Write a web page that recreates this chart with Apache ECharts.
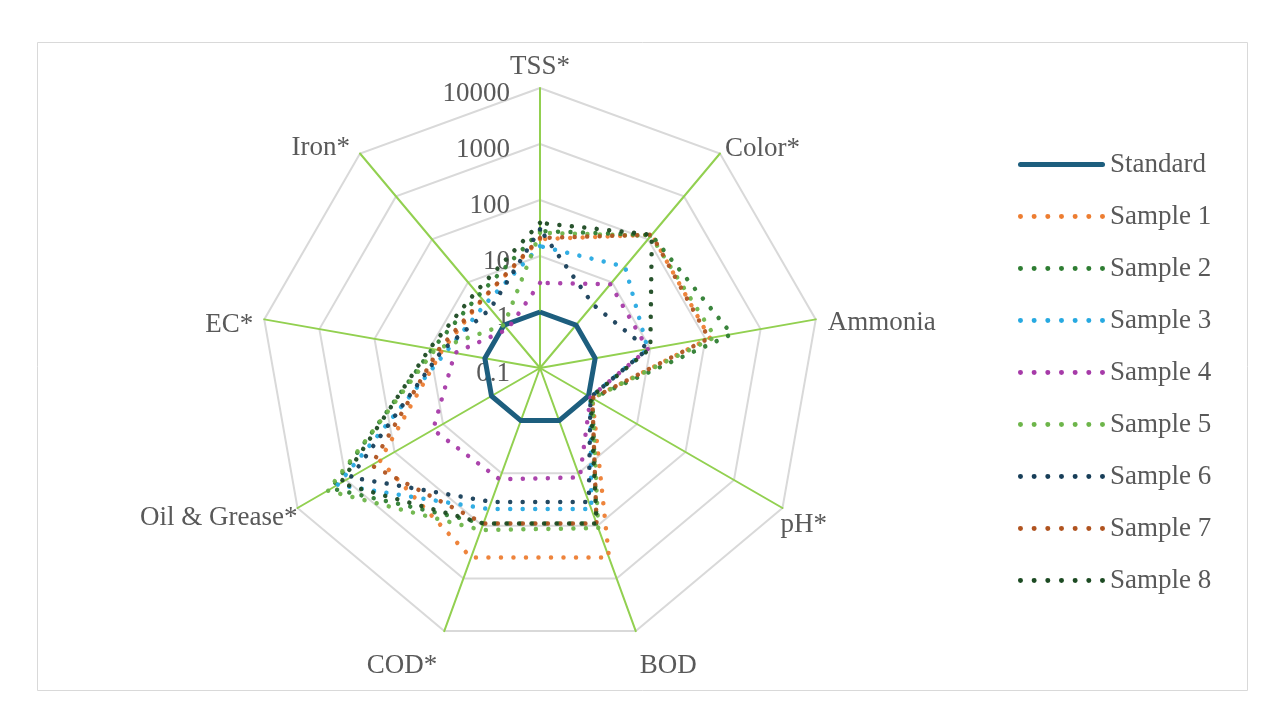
<!DOCTYPE html>
<html><head><meta charset="utf-8">
<script src="https://cdn.jsdelivr.net/npm/echarts@6/dist/echarts.min.js"></script>
<style>html,body{margin:0;padding:0;background:#fff}#c{width:1284px;height:721px}</style>
</head><body><div id="c"></div>
<script>
// Indicators listed clockwise from the top, as in the reference
const indicators = ['TSS*', 'Color*', 'Ammonia', 'pH*', 'BOD', 'COD*', 'Oil & Grease*', 'EC*', 'Iron*'];
const tickLabels = ['0.1', '1', '10', '100', '1000', '10000'];
const seriesNames = ['Standard', 'Sample 1', 'Sample 2', 'Sample 3', 'Sample 4', 'Sample 5', 'Sample 6', 'Sample 7', 'Sample 8'];
const seriesColors = ['#1D5E7E', '#ED7D31', '#2E7D32', '#27A9E1', '#A63AA8', '#6DB54A', '#173E58', '#B0531F', '#1C4A22'];

//                TSS  Color Amm  pH   BOD  COD  Oil   EC   Iron
const standard = [1,   1,    1,   1,   1,   1,   1,    1,   1];
const sample1  = [20,  128,  120, 1.2, 400, 400, 200,  6,   4];
const sample2  = [28,  125,  300, 1.2, 90,  90,  2000, 9,   5];
const sample3  = [15,  23,   9,   1.1, 48,  48,  1500, 5,   3.2];
const sample4  = [3.3, 9,    9,   1.1, 12,  13,  16,   3.5, 0.8];
const sample5  = [26,  120,  150, 1.2, 110, 120, 2400, 8,   1];
const sample6  = [30,  3,    9,   1.1, 35,  35,  800,  6,   2.4];
const sample7  = [21,  128,  115, 1.2, 90,  90,  300,  7,   4];
const sample8  = [39,  128,  10,  1.1, 90,  90,  1300, 10,  6];
const datasets = [standard, sample1, sample2, sample3, sample4, sample5, sample6, sample7, sample8];

// Name label offsets per indicator: [top, right, bottom, left] padding (layout only)
const namePads = [null, [-18, 0, 0, 5], [-10, 0, 0, 12], [3, 0, 0, -2], [21, 0, 0, 4],
                  [21, 7, 0, 0], [-4, 0, 0, 0], [-8, 11, 0, 0], [-19, 10, 0, 0]];

// ECharts places indicators counter-clockwise; reorder so they run clockwise
const order = [0, 8, 7, 6, 5, 4, 3, 2, 1];
const font = 'Liberation Serif';
const textColor = '#595959';
const fs = 27;

function dotPath() {
  let p = 'path://';
  for (let i = 0; i < 7; i++) {
    const cx = 2.5 + 13.7 * i;
    p += 'M' + (cx - 2.5) + ',2.5a2.5,2.5 0 1,0 5,0a2.5,2.5 0 1,0 -5,0';
  }
  return p;
}
const solidPath = 'path://M2.5,0h82a2.5,2.5 0 0,1 0,5h-82a2.5,2.5 0 0,1 0,-5z';

const chart = echarts.init(document.getElementById('c'), null, {renderer: 'canvas'});
const option = {
  animation: false,
  backgroundColor: '#fff',
  graphic: [{
    type: 'rect', shape: {x: 37.5, y: 42.5, width: 1210, height: 648},
    style: {fill: 'none', stroke: '#D9D9D9', lineWidth: 1}, silent: true
  }],
  legend: {
    orient: 'vertical', left: 1013, top: 146,
    itemWidth: 87, itemHeight: 5, itemGap: 25,
    textStyle: {fontFamily: font, fontSize: fs, color: textColor},
    data: seriesNames.map((n, s) => ({
      name: n, icon: s === 0 ? solidPath : dotPath(),
      itemStyle: {color: seriesColors[s], borderWidth: 0}
    }))
  },
  radar: {
    center: [540, 368], radius: 280, startAngle: 90, shape: 'polygon', splitNumber: 5,
    indicator: order.map((i, k) => {
      const ind = {name: indicators[i], min: -1, max: 4};
      if (namePads[i]) {
        ind.nameGap = 0;
        ind.nameTextStyle = {verticalAlign: 'top', padding: namePads[i]};
      } else {
        ind.nameGap = 8;
      }
      if (k === 0) {
        ind.axisLabel = {
          show: true, fontFamily: font, fontSize: fs, color: textColor, margin: 30,
          verticalAlign: 'top', padding: [-8, 0, 0, 0],
          formatter: v => tickLabels[Math.round(v) + 1]
        };
      }
      return ind;
    }),
    axisName: {color: textColor, fontSize: fs, fontFamily: font},
    nameGap: 8,
    axisLine: {lineStyle: {color: '#92D050', width: 2}},
    splitLine: {lineStyle: {color: '#D9D9D9', width: 2}},
    splitArea: {show: false},
    axisTick: {show: false},
    axisLabel: {show: false}
  },
  series: seriesNames.map((n, s) => ({
    type: 'radar', name: n, symbol: 'none', silent: true,
    lineStyle: s === 0
      ? {color: seriesColors[s], width: 5, join: 'round'}
      : {color: seriesColors[s], width: 4.5, type: [0.01, 12.5], cap: 'round', opacity: 0.95},
    itemStyle: {color: seriesColors[s]},
    data: [{name: n, value: order.map(i => Math.log10(datasets[s][i]))}]
  }))
};
chart.setOption(option);
</script>
</body></html>
